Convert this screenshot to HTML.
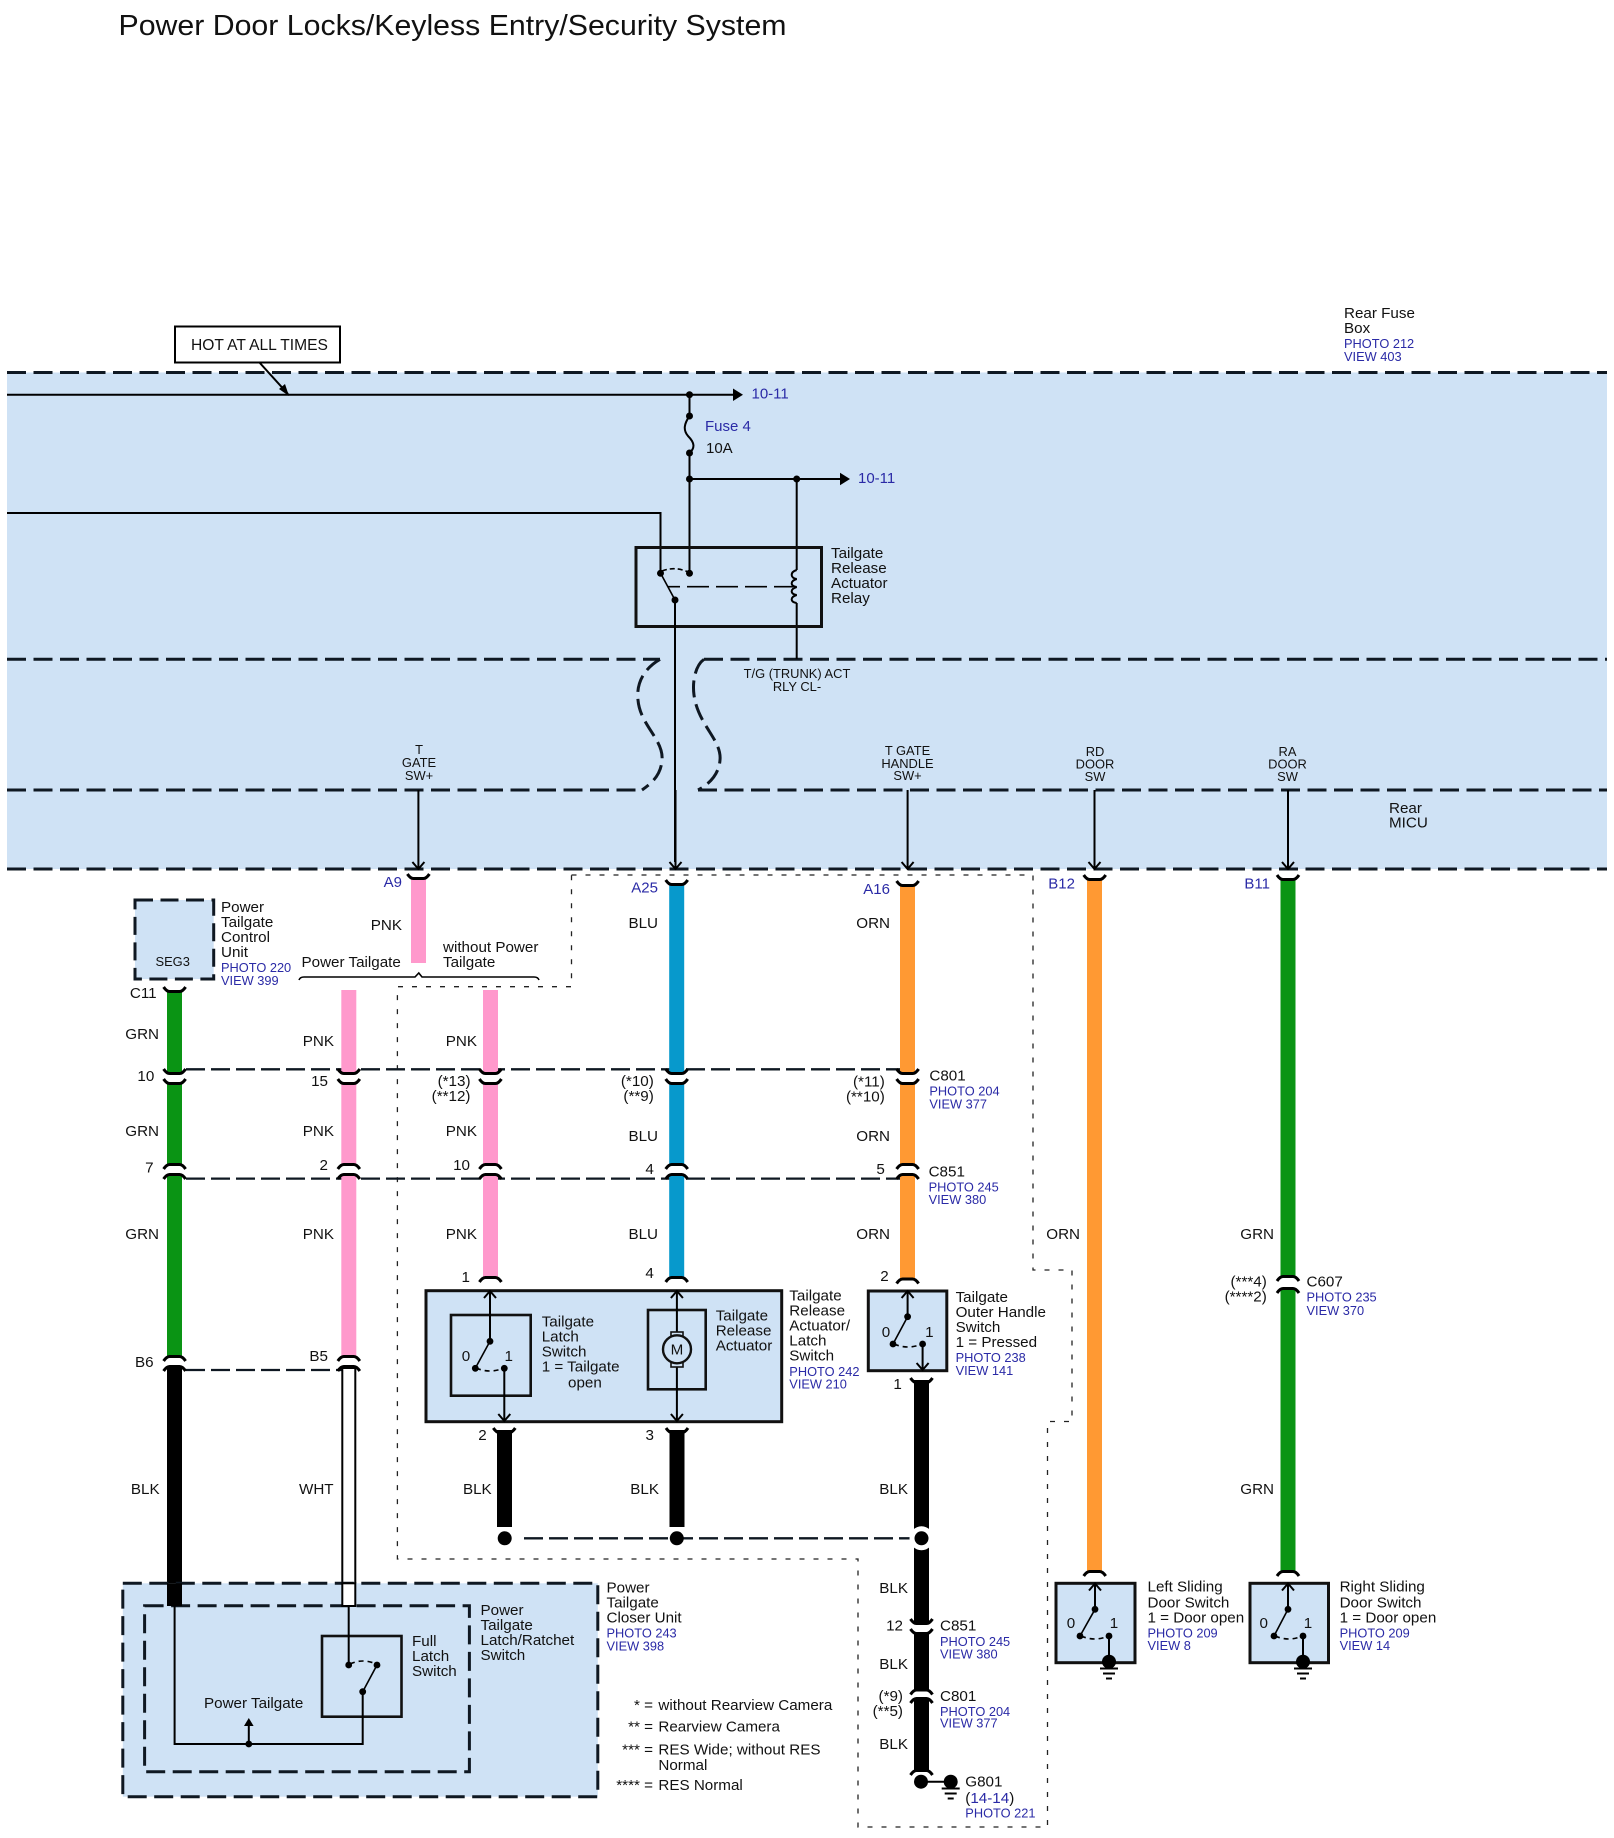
<!DOCTYPE html>
<html lang="en">
<head>
<meta charset="utf-8">
<title>Power Door Locks/Keyless Entry/Security System</title>
<style>
html,body{margin:0;padding:0;background:#fff}
svg{display:block}
text{font-family:"Liberation Sans",Arial,sans-serif;fill:#111}
.l{font-size:15.2px}
.s{font-size:12.9px}
.b{font-size:12.8px;fill:#2a2aa6}
.n{font-size:15px;fill:#2a2aa6}
.e{text-anchor:end}
.m{text-anchor:middle}
.dash{fill:none;stroke:#0f1822;stroke-width:3;stroke-dasharray:19 7.5}
.xd{fill:none;stroke:#0f1822;stroke-width:2.3;stroke-dasharray:19 6}
.dot{fill:none;stroke:#222;stroke-width:1.3;stroke-dasharray:5 9}
.w{fill:none;stroke:#000;stroke-width:2}
.t{fill:none;stroke:#000;stroke-width:1.6}
.box{fill:#cfe2f5;stroke:#111;stroke-width:3}
.frame{fill:none;stroke:#111;stroke-width:3}
.cn{fill:none;stroke:#000;stroke-width:3}
</style>
</head>
<body>
<svg xmlns="http://www.w3.org/2000/svg" width="1614" height="1838" viewBox="0 0 1614 1838">
<defs>
<path id="cu" d="M-11,-3 Q-8,1.5 -5,1.5 L5,1.5 Q8,1.5 11,-3" class="cn"/>
<path id="cd" d="M-11,3 Q-8,-1.5 -5,-1.5 L5,-1.5 Q8,-1.5 11,3" class="cn"/>
<path id="au" d="M-6,7 L0,0 L6,7" class="w"/>
<path id="ad" d="M-6,-7 L0,0 L6,-7" class="w"/>
<g id="gnd"><path d="M-9,0 H9 M-6,5 H6 M-3,10 H3" stroke="#000" stroke-width="2" fill="none"/></g>
</defs>

<rect width="1614" height="1838" fill="#fff"/>
<text x="118.5" y="35" font-size="28.5" textLength="668" lengthAdjust="spacingAndGlyphs">Power Door Locks/Keyless Entry/Security System</text>

<!-- main band -->
<rect x="7" y="372.5" width="1600" height="496.5" fill="#cfe2f5"/>
<path class="dash" d="M7,372.5 H1607"/>
<path class="dash" d="M7,869 H1607"/>
<path class="dash" d="M7,659.3 H660 M704,659.3 H1607"/>
<path class="dash" d="M7,790 H642 M698,790 H1607"/>
<path class="dash" style="stroke-dasharray:17 7" d="M660,659.3 C645,668 636,682 638,700 C640,725 664,740 662,760 C661,775 652,783 642,790"/>
<path class="dash" style="stroke-dasharray:17 7" d="M704,659.3 C696,665 692,680 694,695 C698,725 722,740 720,760 C719,775 708,785 698,790"/>

<!-- HOT box -->
<rect x="175" y="326.5" width="165" height="36" fill="#fff" stroke="#000" stroke-width="2"/>
<text class="l" x="191" y="350" style="font-size:15.6px">HOT AT ALL TIMES</text>
<path class="w" d="M259,362 L288,394"/><path d="M289,396 L279,389 L285,384Z" fill="#000"/>

<!-- fuse box wiring -->
<path class="w" d="M7,394.7 H735"/><path d="M743,394.7 L733,388.5 V401Z" fill="#000"/>
<circle cx="689.5" cy="394.7" r="3.5"/>
<path class="w" d="M689.5,394.7 V416 C684,424 683,430 688,436 C695,443 695,448 689.5,453 V573"/>
<circle cx="689.5" cy="416" r="3.5"/><circle cx="689.5" cy="453" r="3.5"/>
<circle cx="689.5" cy="479" r="3.5"/>
<path class="w" d="M689.5,479 H842"/><path d="M850,479 L840,472.8 V485.2Z" fill="#000"/>
<circle cx="796.7" cy="479" r="3.5"/>
<path class="w" d="M796.7,479 V570 M796.7,603 V659"/>
<path class="w" d="M796.7,570 C790,572 790,578 796.7,579 C790,581 790,586 796.7,587 C790,589 790,594 796.7,595 C790,597 790,602 796.7,603"/>
<path class="w" d="M7,513 H660.5 V573"/>
<rect class="frame" x="636" y="547.5" width="185.5" height="79"/>
<circle cx="660.5" cy="573.3" r="3.5"/><circle cx="689.5" cy="573.3" r="3.5"/><circle cx="675" cy="600" r="3.5"/>
<path class="t" d="M661,574 L675,600"/>
<path class="t" stroke-dasharray="5 3" d="M662,571 Q675,566 688,572"/>
<path class="t" stroke-dasharray="22 7" stroke-dashoffset="10" d="M668,586.7 H793"/>
<path class="w" d="M675,600 V862"/>

<text class="n" x="751.5" y="398.5">10-11</text>
<text class="n" x="858" y="483">10-11</text>
<text class="n" x="705" y="431">Fuse 4</text>
<text class="l" x="706" y="453" style="font-size:15px">10A</text>
<text class="l"><tspan x="831" y="558">Tailgate</tspan><tspan x="831" y="573">Release</tspan><tspan x="831" y="588">Actuator</tspan><tspan x="831" y="603">Relay</tspan></text>
<text class="s m"><tspan x="797" y="678">T/G (TRUNK) ACT</tspan><tspan x="797" y="691">RLY CL-</tspan></text>

<text class="l"><tspan x="1344" y="318">Rear Fuse</tspan><tspan x="1344" y="333">Box</tspan></text>
<text class="b"><tspan x="1344" y="348">PHOTO 212</tspan><tspan x="1344" y="361">VIEW 403</tspan></text>
<text class="l"><tspan x="1389" y="813">Rear</tspan><tspan x="1389" y="827.5">MICU</tspan></text>

<text class="s m"><tspan x="419" y="754">T</tspan><tspan x="419" y="767">GATE</tspan><tspan x="419" y="780">SW+</tspan></text>
<text class="s m"><tspan x="907.5" y="755">T GATE</tspan><tspan x="907.5" y="768">HANDLE</tspan><tspan x="907.5" y="780">SW+</tspan></text>
<text class="s m"><tspan x="1095" y="756">RD</tspan><tspan x="1095" y="768.5">DOOR</tspan><tspan x="1095" y="781">SW</tspan></text>
<text class="s m"><tspan x="1287.5" y="756">RA</tspan><tspan x="1287.5" y="768.5">DOOR</tspan><tspan x="1287.5" y="781">SW</tspan></text>

<!-- input arrows -->
<path class="w" d="M418.4,790 V869 M907.6,790 V869 M1094.5,790 V869 M1288,790 V869"/>
<path class="w" d="M675.5,790 V869"/>
<use href="#ad" x="418.4" y="869"/><use href="#ad" x="675.5" y="869"/><use href="#ad" x="907.6" y="869"/><use href="#ad" x="1094.5" y="869"/><use href="#ad" x="1288" y="869"/>

<!-- dotted outline -->
<path class="dot" d="M571.5,875 H1033 V1270 H1072 V1421.5 H1047.5 V1827 H858 V1559 H397.4 V986.7 H571.5 Z"/>

<!-- cross connector dashes -->
<path class="xd" d="M186,1069.3 H900"/>
<path class="xd" d="M186,1178.6 H900"/>
<path class="xd" d="M186,1370 H342"/>
<path class="xd" d="M524,1538.3 H915"/>

<!-- wires -->
<g fill="#0a9414">
<rect x="167" y="990" width="15" height="82"/><rect x="167" y="1082" width="15" height="84"/><rect x="167" y="1176" width="15" height="182"/>
<rect x="1280.5" y="879" width="15" height="399"/><rect x="1280.5" y="1290" width="15" height="283"/>
</g>
<g fill="#ff99cc">
<rect x="411" y="878" width="15" height="85"/>
<rect x="341.3" y="990" width="15" height="82"/><rect x="341.3" y="1082" width="15" height="84"/><rect x="341.3" y="1176" width="15" height="182"/>
<rect x="483" y="990" width="15" height="82"/><rect x="483" y="1082" width="15" height="84"/><rect x="483" y="1176" width="15" height="103"/>
</g>
<g fill="#0799cc">
<rect x="669.2" y="884" width="15" height="188"/><rect x="669.2" y="1082" width="15" height="84"/><rect x="669.2" y="1176" width="15" height="103"/>
</g>
<g fill="#ff9933">
<rect x="900" y="885" width="15" height="187"/><rect x="900" y="1082" width="15" height="84"/><rect x="900" y="1176" width="15" height="104"/>
<rect x="1087" y="879" width="15" height="694"/>
</g>
<g fill="#000">
<rect x="167" y="1368" width="15" height="238"/>
<rect x="497" y="1430" width="15" height="97"/><rect x="669.5" y="1430" width="15" height="97"/>
<rect x="914" y="1380" width="15" height="242"/><rect x="914" y="1632" width="15" height="59"/><rect x="914" y="1700" width="15" height="72"/>
</g>
<rect x="342.3" y="1368" width="13" height="238" fill="#fff" stroke="#000" stroke-width="2"/>

<!-- connectors -->
<use href="#cu" x="418.4" y="877"/><use href="#cu" x="676.7" y="883"/><use href="#cu" x="907.6" y="884"/><use href="#cu" x="1094.7" y="878"/><use href="#cu" x="1288" y="878"/>
<use href="#cu" x="174.6" y="990"/>
<use href="#cu" x="174.6" y="1072"/><use href="#cu" x="174.6" y="1082"/>
<use href="#cu" x="348.8" y="1072"/><use href="#cu" x="348.8" y="1082"/>
<use href="#cu" x="490.4" y="1072"/><use href="#cu" x="490.4" y="1082"/>
<use href="#cu" x="676.7" y="1072"/><use href="#cu" x="676.7" y="1082"/>
<use href="#cu" x="907.6" y="1072"/><use href="#cu" x="907.6" y="1082"/>
<use href="#cd" x="174.6" y="1166"/><use href="#cd" x="174.6" y="1176"/>
<use href="#cd" x="348.8" y="1166"/><use href="#cd" x="348.8" y="1176"/>
<use href="#cd" x="490.4" y="1166"/><use href="#cd" x="490.4" y="1176"/>
<use href="#cd" x="676.7" y="1166"/><use href="#cd" x="676.7" y="1176"/>
<use href="#cd" x="907.6" y="1166"/><use href="#cd" x="907.6" y="1176"/>
<use href="#cd" x="174.6" y="1358"/><use href="#cd" x="174.6" y="1368"/>
<use href="#cd" x="348.8" y="1358"/><use href="#cd" x="348.8" y="1368"/>
<use href="#cd" x="490.4" y="1279"/><use href="#cd" x="676.7" y="1279"/><use href="#cd" x="907.6" y="1280.5"/>
<use href="#cd" x="1288" y="1278"/><use href="#cd" x="1288" y="1290"/>
<use href="#cu" x="504.3" y="1431"/><use href="#cu" x="677" y="1431"/><use href="#cu" x="921.5" y="1381"/>
<use href="#cd" x="1094.7" y="1573"/><use href="#cd" x="1288" y="1573"/>
<use href="#cu" x="921.5" y="1622"/><use href="#cu" x="921.5" y="1632"/>
<use href="#cd" x="921.5" y="1691.5"/><use href="#cd" x="921.5" y="1700"/>
<use href="#cd" x="921.5" y="1772"/>

<!-- splices -->
<circle cx="504.7" cy="1538.3" r="7"/><circle cx="676.8" cy="1538.3" r="7"/>
<circle cx="921.5" cy="1538.3" r="12" fill="#fff"/><circle cx="921.5" cy="1538.3" r="7"/>
<circle cx="921" cy="1781.7" r="7"/><circle cx="950.7" cy="1781.7" r="7"/>
<path class="w" d="M921,1781.7 H950"/>
<use href="#gnd" x="950.7" y="1788.5"/>

<!-- SEG3 -->
<rect x="135" y="900" width="78.7" height="79" fill="#cfe2f5"/>
<rect x="135" y="900" width="78.7" height="79" class="dash" style="stroke-dasharray:18 7.5"/>
<text class="s m" x="172.7" y="966">SEG3</text>
<text class="l"><tspan x="221" y="912">Power</tspan><tspan x="221" y="927">Tailgate</tspan><tspan x="221" y="942">Control</tspan><tspan x="221" y="957">Unit</tspan></text>
<text class="b"><tspan x="221" y="972">PHOTO 220</tspan><tspan x="221" y="985">VIEW 399</tspan></text>

<!-- brace -->
<path class="t" d="M299,980 Q300,977 304,977 H415 L418.8,973 L422,977 H534 Q538,977 539,980"/>
<text class="l" x="301.5" y="967">Power Tailgate</text>
<text class="l"><tspan x="443" y="952">without Power</tspan><tspan x="443" y="967">Tailgate</tspan></text>

<!-- wire colour labels -->
<g class="l">
<text class="l e" x="159" y="1039">GRN</text><text class="l e" x="159" y="1136">GRN</text><text class="l e" x="159" y="1239">GRN</text>
<text class="l e" x="402" y="930">PNK</text>
<text class="l e" x="334" y="1046">PNK</text><text class="l e" x="334" y="1136">PNK</text><text class="l e" x="334" y="1239">PNK</text>
<text class="l e" x="477" y="1046">PNK</text><text class="l e" x="477" y="1136">PNK</text><text class="l e" x="477" y="1239">PNK</text>
<text class="l e" x="658" y="928">BLU</text><text class="l e" x="658" y="1141">BLU</text><text class="l e" x="658" y="1239">BLU</text>
<text class="l e" x="890" y="928">ORN</text><text class="l e" x="890" y="1141">ORN</text><text class="l e" x="890" y="1239">ORN</text>
<text class="l e" x="1080" y="1239">ORN</text>
<text class="l e" x="1274" y="1239">GRN</text><text class="l e" x="1274" y="1494">GRN</text>
<text class="l e" x="159.6" y="1494">BLK</text><text class="l e" x="333.6" y="1494">WHT</text>
<text class="l e" x="491.7" y="1494">BLK</text><text class="l e" x="659" y="1494">BLK</text><text class="l e" x="908" y="1494">BLK</text>
<text class="l e" x="908" y="1593">BLK</text><text class="l e" x="908" y="1669">BLK</text><text class="l e" x="908" y="1749">BLK</text>
</g>

<!-- pin labels -->
<text class="n e" x="402" y="887">A9</text><text class="n e" x="658" y="892.5">A25</text><text class="n e" x="890" y="894">A16</text><text class="n e" x="1075" y="888.5">B12</text><text class="n e" x="1270" y="888.5">B11</text>
<text class="l e" x="156.6" y="998">C11</text>
<text class="l e" x="154.3" y="1081">10</text><text class="l e" x="328" y="1086">15</text>
<text class="l e" x="470.5" y="1086">(*13)</text><text class="l e" x="470.5" y="1101">(**12)</text>
<text class="l e" x="653.8" y="1086">(*10)</text><text class="l e" x="653.8" y="1101">(**9)</text>
<text class="l e" x="884.8" y="1086.7">(*11)</text><text class="l e" x="884.8" y="1101.3">(**10)</text>
<text class="l e" x="153.6" y="1172.7">7</text><text class="l e" x="328" y="1170">2</text><text class="l e" x="470" y="1170">10</text><text class="l e" x="653.8" y="1174">4</text><text class="l e" x="884.8" y="1174">5</text>
<text class="l e" x="153.6" y="1367">B6</text><text class="l e" x="328" y="1361">B5</text>
<text class="l e" x="470" y="1282">1</text><text class="l e" x="653.8" y="1278">4</text><text class="l e" x="888.7" y="1281">2</text>
<text class="l e" x="486.7" y="1440">2</text><text class="l e" x="654" y="1440">3</text><text class="l e" x="901.8" y="1389">1</text>
<text class="l e" x="1266.8" y="1286.7">(***4)</text><text class="l e" x="1266.8" y="1301.7">(****2)</text>
<text class="l e" x="903" y="1630.7">12</text>
<text class="l e" x="903" y="1701">(*9)</text><text class="l e" x="903" y="1716">(**5)</text>

<!-- connector refs -->
<text class="l" x="929.4" y="1080.7">C801</text><text class="b"><tspan x="929.4" y="1095.7">PHOTO 204</tspan><tspan x="929.4" y="1108.7">VIEW 377</tspan></text>
<text class="l" x="928.6" y="1176.7">C851</text><text class="b"><tspan x="928.6" y="1191.7">PHOTO 245</tspan><tspan x="928.6" y="1204">VIEW 380</tspan></text>
<text class="l" x="1306.5" y="1286.7">C607</text><text class="b"><tspan x="1306.5" y="1301.7">PHOTO 235</tspan><tspan x="1306.5" y="1315">VIEW 370</tspan></text>
<text class="l" x="940" y="1630.7">C851</text><text class="b"><tspan x="940" y="1646">PHOTO 245</tspan><tspan x="940" y="1658.7">VIEW 380</tspan></text>
<text class="l" x="940" y="1701">C801</text><text class="b"><tspan x="940" y="1716">PHOTO 204</tspan><tspan x="940" y="1727.7">VIEW 377</tspan></text>
<text class="l" x="965.3" y="1786.7">G801</text>
<text class="l" x="965.3" y="1803">(<tspan fill="#2a2aa6">14-14</tspan>)</text>
<text class="b" x="965.3" y="1817.7">PHOTO 221</text>

<!-- latch / actuator module -->
<rect class="box" x="426" y="1290.7" width="355.7" height="131"/>
<rect x="451" y="1315" width="79.7" height="80.7" fill="none" stroke="#111" stroke-width="2.6"/>
<rect x="648" y="1310" width="57.7" height="79.3" fill="none" stroke="#111" stroke-width="2.6"/>
<path class="w" d="M490,1291 V1341.3 M504.3,1368.3 V1421"/>
<use href="#au" x="490" y="1291"/><use href="#ad" x="504.3" y="1421"/>
<circle cx="490" cy="1341.3" r="3.4"/><circle cx="475.3" cy="1368.3" r="3.4"/><circle cx="504.3" cy="1368.3" r="3.4"/>
<path class="t" d="M490,1341.3 L475.3,1368.3"/>
<path class="t" stroke-dasharray="5 4" d="M476,1368 Q490,1374 504,1368"/>
<text class="l m" x="466" y="1361">0</text><text class="l m" x="508.7" y="1361">1</text>
<text class="l"><tspan x="541.7" y="1326.7">Tailgate</tspan><tspan x="541.7" y="1341.7">Latch</tspan><tspan x="541.7" y="1356.7">Switch</tspan><tspan x="541.7" y="1371.7">1 = Tailgate</tspan><tspan x="568" y="1387.3">open</tspan></text>
<path class="w" d="M676.9,1291 V1421"/>
<use href="#au" x="676.9" y="1291"/><use href="#ad" x="676.9" y="1421"/>
<rect x="671" y="1332" width="12" height="35" fill="#cfe2f5" stroke="#111" stroke-width="1.6"/>
<circle cx="677" cy="1349.3" r="14" fill="#cfe2f5" stroke="#111" stroke-width="2.4"/>
<text class="l m" x="677" y="1354.5">M</text>
<text class="l"><tspan x="715.7" y="1320.7">Tailgate</tspan><tspan x="715.7" y="1335.7">Release</tspan><tspan x="715.7" y="1350.7">Actuator</tspan></text>
<text class="l"><tspan x="789.3" y="1300.7">Tailgate</tspan><tspan x="789.3" y="1315.7">Release</tspan><tspan x="789.3" y="1330.7">Actuator/</tspan><tspan x="789.3" y="1345.7">Latch</tspan><tspan x="789.3" y="1360.7">Switch</tspan></text>
<text class="b"><tspan x="789.3" y="1376">PHOTO 242</tspan><tspan x="789.3" y="1388.7">VIEW 210</tspan></text>

<!-- outer handle switch -->
<rect class="box" x="868.3" y="1291" width="78.5" height="79.7"/>
<path class="w" d="M907.6,1291 V1316.7 M922.6,1344 V1370"/>
<use href="#au" x="907.6" y="1291"/><use href="#ad" x="922.6" y="1370"/>
<circle cx="907.6" cy="1316.7" r="3.4"/><circle cx="893" cy="1344" r="3.4"/><circle cx="922.6" cy="1344" r="3.4"/>
<path class="t" d="M907.6,1316.7 L893,1344"/>
<path class="t" stroke-dasharray="5 4" d="M894,1344 Q908,1350 922,1344"/>
<text class="l m" x="886" y="1337">0</text><text class="l m" x="929.4" y="1337">1</text>
<text class="l"><tspan x="955.6" y="1302">Tailgate</tspan><tspan x="955.6" y="1317">Outer Handle</tspan><tspan x="955.6" y="1332">Switch</tspan><tspan x="955.6" y="1347">1 = Pressed</tspan></text>
<text class="b"><tspan x="955.6" y="1362">PHOTO 238</tspan><tspan x="955.6" y="1375">VIEW 141</tspan></text>

<!-- left sliding door switch -->
<rect class="box" x="1056" y="1583.3" width="79" height="79.4"/>
<path class="w" d="M1095,1583.5 V1609.3 M1109,1636 V1661"/>
<use href="#au" x="1095" y="1583.5"/>
<circle cx="1095" cy="1609.3" r="3.4"/><circle cx="1080" cy="1636" r="3.4"/><circle cx="1109" cy="1636" r="3.4"/>
<path class="t" d="M1095,1609.3 L1080,1636"/>
<path class="t" stroke-dasharray="5 4" d="M1081,1636 Q1095,1642 1108,1636"/>
<circle cx="1109" cy="1661.7" r="7"/>
<use href="#gnd" x="1109" y="1668.5"/>
<text class="l m" x="1071" y="1628">0</text><text class="l m" x="1114" y="1628">1</text>
<text class="l"><tspan x="1147.5" y="1591.7">Left Sliding</tspan><tspan x="1147.5" y="1607.7">Door Switch</tspan><tspan x="1147.5" y="1622.7">1 = Door open</tspan></text>
<text class="b"><tspan x="1147.5" y="1637.7">PHOTO 209</tspan><tspan x="1147.5" y="1650">VIEW 8</tspan></text>

<!-- right sliding door switch -->
<rect class="box" x="1250" y="1583.3" width="78.5" height="79.4"/>
<path class="w" d="M1288,1583.5 V1609.3 M1303,1636 V1661"/>
<use href="#au" x="1288" y="1583.5"/>
<circle cx="1288" cy="1609.3" r="3.4"/><circle cx="1274" cy="1636" r="3.4"/><circle cx="1303" cy="1636" r="3.4"/>
<path class="t" d="M1288,1609.3 L1274,1636"/>
<path class="t" stroke-dasharray="5 4" d="M1275,1636 Q1289,1642 1302,1636"/>
<circle cx="1303" cy="1661.7" r="7"/>
<use href="#gnd" x="1303" y="1668.5"/>
<text class="l m" x="1263.7" y="1628">0</text><text class="l m" x="1308" y="1628">1</text>
<text class="l"><tspan x="1339.6" y="1591.7">Right Sliding</tspan><tspan x="1339.6" y="1607.7">Door Switch</tspan><tspan x="1339.6" y="1622.7">1 = Door open</tspan></text>
<text class="b"><tspan x="1339.6" y="1637.7">PHOTO 209</tspan><tspan x="1339.6" y="1650">VIEW 14</tspan></text>

<!-- closer unit -->
<rect x="122.8" y="1583.3" width="475" height="213.4" fill="#cfe2f5"/>
<rect x="122.8" y="1583.3" width="475" height="213.4" class="dash"/>
<rect x="144.6" y="1605.7" width="324.8" height="166" class="dash"/>
<rect x="167" y="1583.3" width="15" height="22.7" fill="#000"/>
<rect x="342.3" y="1583.3" width="13" height="22.7" fill="#fff" stroke="#000" stroke-width="2"/>
<rect x="322" y="1636" width="79.5" height="80.7" fill="none" stroke="#111" stroke-width="2.6"/>
<path class="w" d="M174.6,1605 V1744 H362.7 V1691.7 M348.7,1605 V1665"/>
<circle cx="348.7" cy="1665" r="3.4"/><circle cx="377" cy="1665" r="3.4"/><circle cx="362.7" cy="1691.7" r="3.4"/>
<path class="t" d="M362.7,1691.7 L377,1665"/>
<path class="t" stroke-dasharray="5 4" d="M350,1664 Q363,1658 376,1664"/>
<circle cx="248.8" cy="1744" r="3.4"/>
<path class="w" d="M248.8,1744 V1724"/><path d="M248.8,1718 L244,1726 H253.6Z" fill="#000"/>
<text class="l" x="204" y="1708">Power Tailgate</text>
<text class="l"><tspan x="412" y="1646">Full</tspan><tspan x="412" y="1661">Latch</tspan><tspan x="412" y="1676">Switch</tspan></text>
<text class="l"><tspan x="480.5" y="1615">Power</tspan><tspan x="480.5" y="1630">Tailgate</tspan><tspan x="480.5" y="1645">Latch/Ratchet</tspan><tspan x="480.5" y="1660">Switch</tspan></text>
<text class="l"><tspan x="606.5" y="1592.7">Power</tspan><tspan x="606.5" y="1607.7">Tailgate</tspan><tspan x="606.5" y="1622.7">Closer Unit</tspan></text>
<text class="b"><tspan x="606.5" y="1637.7">PHOTO 243</tspan><tspan x="606.5" y="1650.7">VIEW 398</tspan></text>

<!-- legend -->
<text class="l e" x="653" y="1710">* =</text><text class="l" x="658.4" y="1710">without Rearview Camera</text>
<text class="l e" x="653" y="1731.7">** =</text><text class="l" x="658.4" y="1731.7">Rearview Camera</text>
<text class="l e" x="653" y="1754.3">*** =</text><text class="l" x="658.4" y="1754.3">RES Wide; without RES</text>
<text class="l" x="658.4" y="1770">Normal</text>
<text class="l e" x="653" y="1790">**** =</text><text class="l" x="658.4" y="1790">RES Normal</text>
</svg>
</body>
</html>
